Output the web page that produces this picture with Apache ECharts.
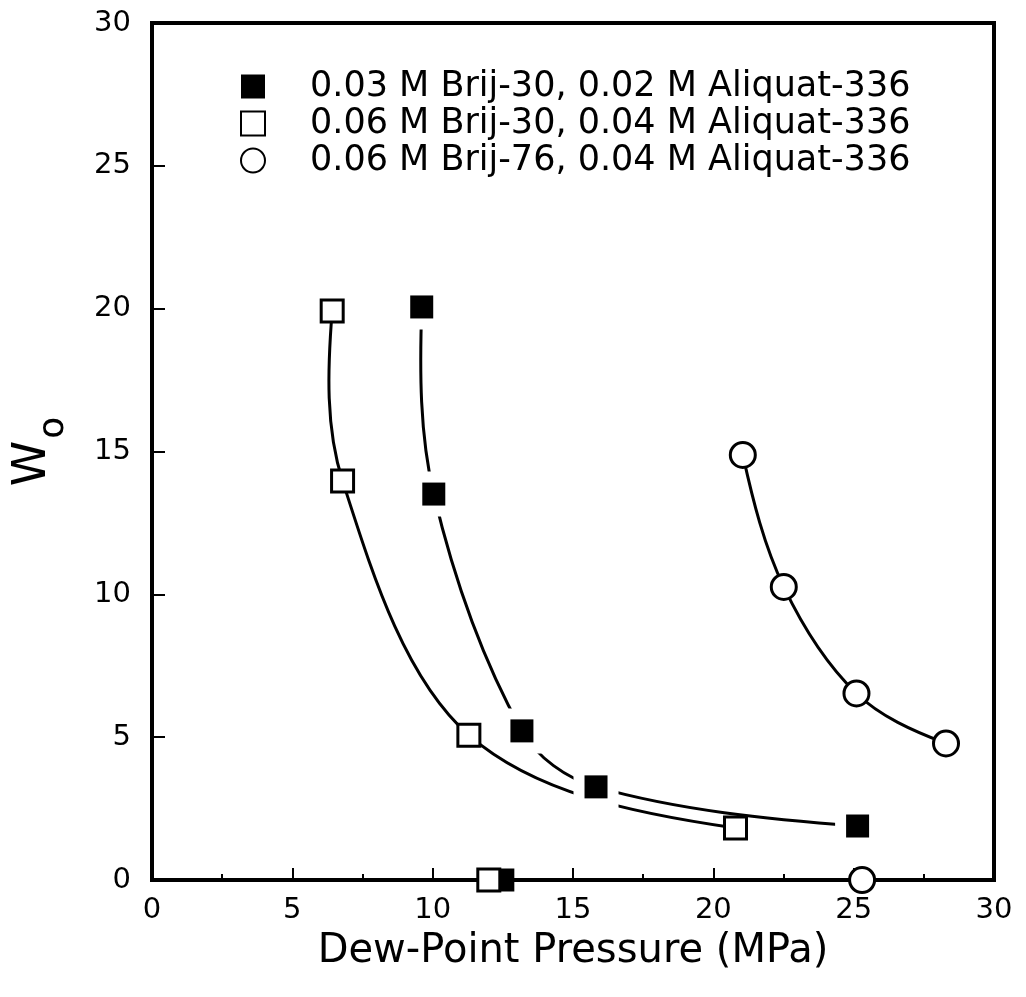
<!DOCTYPE html>
<html>
<head>
<meta charset="utf-8">
<script src="https://cdn.jsdelivr.net/npm/echarts@6/dist/echarts.min.js"></script>
<style>
  html, body { margin: 0; padding: 0; background: #fff; }
  #chart { width: 1026px; height: 997px; }
</style>
</head>
<body>
<div id="chart"></div>
<script>
// dew-point pressure (MPa) vs W0
const seriesNames = [
  '0.03 M Brij-30, 0.02 M Aliquat-336',
  '0.06 M Brij-30, 0.04 M Aliquat-336',
  '0.06 M Brij-76, 0.04 M Aliquat-336'
];
const brij30LowP = [9.61, 10.04, 13.18, 15.82, 25.14];
const brij30LowW = [20.06, 13.51, 5.22, 3.26, 1.89];
const brij30HighP = [6.42, 6.79, 11.29, 20.79];
const brij30HighW = [19.92, 13.97, 5.07, 1.82];
const brij76P = [21.05, 22.51, 25.1, 28.29];
const brij76W = [14.88, 10.26, 6.53, 4.78];
// points sitting on the axis (W0 = 0)
const zeroP = [12.5, 12.0, 25.3];
const xTicks = [0, 5, 10, 15, 20, 25, 30];
const yTicks = [0, 5, 10, 15, 20, 25, 30];

const font = 'DejaVu Sans';

function pairs(xs, ys) {
  return xs.map((x, i) => [x, ys[i]]);
}

// smooth curve through pixel points (chord-length tangents)
function splinePath(p) {
  const n = p.length;
  const m = n - 1;
  const d = [];
  for (let i = 0; i < m; i++) {
    d.push(Math.hypot(p[i + 1][0] - p[i][0], p[i + 1][1] - p[i][1]));
  }
  const T = [];
  for (let i = 1; i < m; i++) {
    const s = d[i - 1] + d[i];
    T[i] = [(p[i + 1][0] - p[i - 1][0]) / s, (p[i + 1][1] - p[i - 1][1]) / s];
  }
  // end tangents: part way between the chord and a free end
  const a = 0.6;
  const u0 = [(p[1][0] - p[0][0]) / d[0], (p[1][1] - p[0][1]) / d[0]];
  const um = [(p[m][0] - p[m - 1][0]) / d[m - 1], (p[m][1] - p[m - 1][1]) / d[m - 1]];
  T[0] = [u0[0] + a * (u0[0] - T[1][0]), u0[1] + a * (u0[1] - T[1][1])];
  T[m] = [um[0] + a * (um[0] - T[m - 1][0]), um[1] + a * (um[1] - T[m - 1][1])];
  let path = 'M' + p[0][0] + ' ' + p[0][1];
  for (let i = 0; i < m; i++) {
    const k = d[i] / 3;
    path += ' C' + (p[i][0] + T[i][0] * k) + ' ' + (p[i][1] + T[i][1] * k) + ' ' +
      (p[i + 1][0] - T[i + 1][0] * k) + ' ' + (p[i + 1][1] - T[i + 1][1] * k) + ' ' +
      p[i + 1][0] + ' ' + p[i + 1][1];
  }
  return path;
}

function curve(xs, ys) {
  return {
    type: 'custom',
    data: pairs(xs, ys),
    encode: { x: 0, y: 1 },
    z: 2, silent: true, clip: false,
    renderItem(params, api) {
      if (params.dataIndexInside !== 0) return null;
      const pts = [];
      for (let i = 0; i < params.dataInsideLength; i++) {
        pts.push(api.coord([api.value(0, i), api.value(1, i)]));
      }
      return {
        type: 'path',
        shape: { pathData: splinePath(pts) },
        style: { stroke: '#000', lineWidth: 3, fill: 'none' }
      };
    }
  };
}

const chart = echarts.init(document.getElementById('chart'));

const option = {
  backgroundColor: '#fff',
  animation: false,
  grid: {
    left: 152, right: 32, top: 23, bottom: 117,
    show: true, borderColor: '#000', borderWidth: 4
  },
  legend: {
    data: seriesNames,
    orient: 'vertical',
    left: 240,
    top: 68,
    padding: 0,
    itemWidth: 24,
    itemHeight: 24,
    itemGap: 0,
    selectedMode: false,
    textStyle: {
      fontFamily: font, fontSize: 35, color: '#000', lineHeight: 37,
      padding: [0, 0, 0, 40]
    }
  },
  xAxis: {
    type: 'value',
    min: xTicks[0], max: xTicks[xTicks.length - 1], interval: 5,
    name: 'Dew-Point Pressure (MPa)',
    nameLocation: 'middle',
    nameGap: 52,
    nameTextStyle: { fontFamily: font, fontSize: 40, color: '#000' },
    axisLine: { show: false },
    axisTick: { show: true, inside: true, length: 12, lineStyle: { color: '#000', width: 2 } },
    minorTick: { show: true, splitNumber: 2, length: 6, lineStyle: { color: '#000', width: 2 } },
    axisLabel: { fontFamily: font, fontSize: 29, color: '#000', margin: 16 },
    splitLine: { show: false }
  },
  yAxis: {
    type: 'value',
    min: yTicks[0], max: yTicks[yTicks.length - 1], interval: 5,
    name: '{w|W}{o|o}',
    nameLocation: 'middle',
    nameRotate: 90,
    nameGap: 96,
    nameTextStyle: {
      color: '#000',
      rich: {
        w: { fontFamily: font, fontSize: 46, lineHeight: 46, verticalAlign: 'top' },
        o: { fontFamily: font, fontSize: 36, lineHeight: 36, verticalAlign: 'top', padding: [26, 0, 0, 2] }
      }
    },
    axisLine: { show: false },
    axisTick: { show: true, inside: true, length: 13, lineStyle: { color: '#000', width: 2 } },
    axisLabel: { fontFamily: font, fontSize: 29, color: '#000', margin: 21 },
    splitLine: { show: false }
  },
  series: [
    // fitted curves
    curve(brij30LowP, brij30LowW),
    curve(brij30HighP, brij30HighW),
    curve(brij76P, brij76W),
    // white gap around the solid squares
    {
      type: 'scatter', data: pairs(brij30LowP, brij30LowW), symbol: 'rect', symbolSize: 45,
      itemStyle: { color: '#fff', opacity: 1 }, z: 3, silent: true
    },
    // markers
    {
      name: seriesNames[0], type: 'scatter', clip: false, z: 4,
      data: pairs(brij30LowP, brij30LowW).concat([[zeroP[0], 0]]),
      symbol: 'rect', symbolSize: 23,
      itemStyle: { color: '#000', opacity: 1 }
    },
    {
      name: seriesNames[1], type: 'scatter', clip: false, z: 4,
      data: pairs(brij30HighP, brij30HighW).concat([[zeroP[1], 0]]),
      symbol: 'rect', symbolSize: 22,
      itemStyle: { color: '#fff', borderColor: '#000', borderWidth: 3, opacity: 1 }
    },
    {
      name: seriesNames[2], type: 'scatter', clip: false, z: 4,
      data: pairs(brij76P, brij76W).concat([[zeroP[2], 0]]),
      symbol: 'circle', symbolSize: 25,
      itemStyle: { color: '#fff', borderColor: '#000', borderWidth: 3, opacity: 1 }
    }
  ]
};

chart.setOption(option);
</script>
</body>
</html>
